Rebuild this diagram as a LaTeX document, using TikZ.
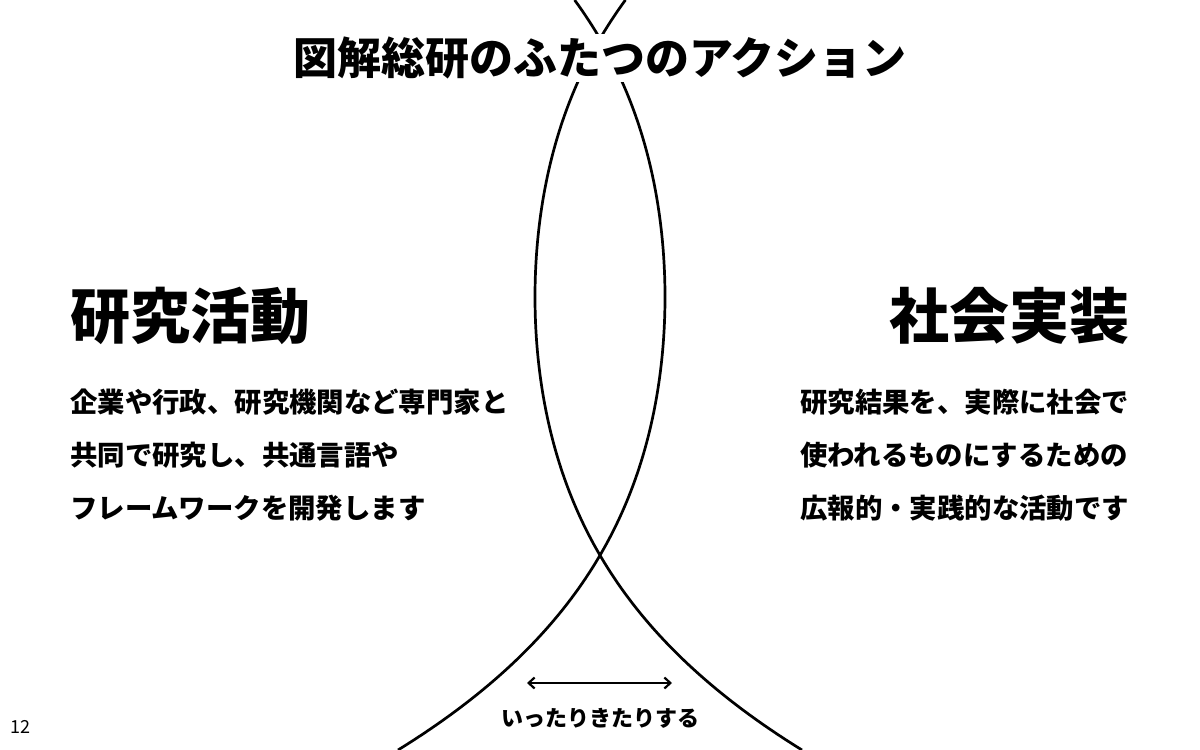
\documentclass[tikz,border=0pt]{standalone}
\usepackage{fontspec}
\setmainfont{Noto Sans CJK JP}
\IfFontExistsTF{Noto Sans CJK JP Black}{\newfontfamily\headfont{Noto Sans CJK JP Black}}{\newcommand\headfont{\bfseries}}
\usepackage{tikz}
\usetikzlibrary{arrows.meta}

\tikzset{
  declare function={bend(\t)=65-8.168*\t*\t-0.236*\t*\t*\t*\t;},
  strand/.style={line width=2.7pt, black},
  heading/.style={inner sep=0pt, font=\fontsize{60}{66}\selectfont\headfont},
  body/.style={inner sep=0pt, align=left, font=\fontsize{27.4}{53}\selectfont\bfseries},
}

\begin{document}
\begin{tikzpicture}[x=1pt, y=-1pt]
        \useasboundingbox (0,0) rectangle (1200,750);

        \draw[strand] plot[domain=0:750, samples=150, variable=\y] ({600+bend((\y-297)/100)}, \y);
        \draw[strand] plot[domain=0:750, samples=150, variable=\y] ({600-bend((\y-297)/100)}, \y);

        \node[fill=white, inner xsep=2pt, inner ysep=3pt, font=\fontsize{44}{50}\selectfont\bfseries] (title) at (600, 58) {図解総研のふたつのアクション};

        \node[heading, anchor=west] (research) at (70, 316) {研究活動};
        \node[heading, anchor=east] (society) at (1130, 316) {社会実装};

        \node[body, anchor=west] (researchtext) at (70, 455) {企業や行政、研究機関など専門家と\\共同で研究し、共通言語や\\フレームワークを開発します};
        \node[body, anchor=west] (societytext) at (800, 455) {研究結果を、実際に社会で\\使われるものにするための\\広報的・実践的な活動です};

        \coordinate (back) at (527, 683);
        \coordinate (forth) at (672, 683);
        \draw[line width=2.2pt, {Straight Barb[length=6pt, width=11pt]}-{Straight Barb[length=6pt, width=11pt]}] (back) -- (forth);
        \node[inner sep=0pt, font=\fontsize{22}{26}\selectfont\bfseries] (shuttle) at (600, 718) {いったりきたりする};

        \node[inner sep=0pt, font=\fontsize{18}{20}\selectfont] (page) at (20, 727) {12};
    \end{tikzpicture}
\end{document}
